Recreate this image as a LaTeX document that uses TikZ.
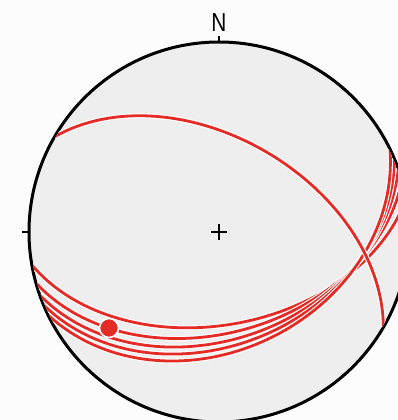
\documentclass[tikz,border=0pt]{standalone}
\usepackage{fontspec}
\setsansfont{Liberation Sans}
\usetikzlibrary{calc}
\definecolor{netgray}{HTML}{EFEEEE}
\definecolor{planered}{HTML}{E52B25}
% equal-area great circle: #1 strike angle, #2 dip
\def\netR{190}
\newcommand{\gcplane}[2]{plot[variable=\t,domain=0:180,samples=120]
  ({\netR*(cos(\t)*cos(#1)-sin(\t)*cos(#2)*sin(#1))/sqrt(1+sin(\t)*sin(#2))},
   {\netR*(cos(\t)*sin(#1)+sin(\t)*cos(#2)*cos(#1))/sqrt(1+sin(\t)*sin(#2))})}
\tikzset{
  plane/.style={draw=planered,line width=2.8pt,line cap=round,
    preaction={draw=white,line width=5pt}},
  tick/.style={line width=2.4pt}
}
\begin{document}
\begin{tikzpicture}[x=1pt,y=1pt,line join=round]
  \useasboundingbox (-219,-188) rectangle (179,232);
  \fill[white!99!black] (-219,-188) rectangle (179,232);
  \clip (-219,-188) rectangle (179,232);
  \coordinate (O) at (0,0);
  \filldraw[fill=netgray,draw=black,line width=3pt] (O) circle (\netR);
  % ticks and centre
  \draw[tick] (0,\netR) -- (0,196) coordinate (Ntick);
  \draw[tick] (-\netR,0) -- (-197,0) coordinate (Wtick);
  \draw[tick] (-8,0) -- (8,0);
  \draw[tick] (0,-8) -- (0,8);
  \node[font=\sffamily\fontsize{26}{26}\selectfont,xscale=0.8,anchor=base,inner sep=0pt] (N) at (0,200) {N};
  % planes
  \begin{scope}
    \clip (O) circle (\netR-1.2);
    \draw[plane] \gcplane{190.0}{49.5};
    \draw[plane] \gcplane{195.6}{46};
    \draw[plane] \gcplane{199.4}{43};
    \draw[plane] \gcplane{202.6}{40.5};
    \draw[plane] \gcplane{205.9}{38};
    \draw[plane] \gcplane{329.9}{49.5};
  \end{scope}
  \filldraw[fill=planered,draw=white,line width=1.6pt] (-110,-96) coordinate (L) circle (9.5);
\end{tikzpicture}
\end{document}
